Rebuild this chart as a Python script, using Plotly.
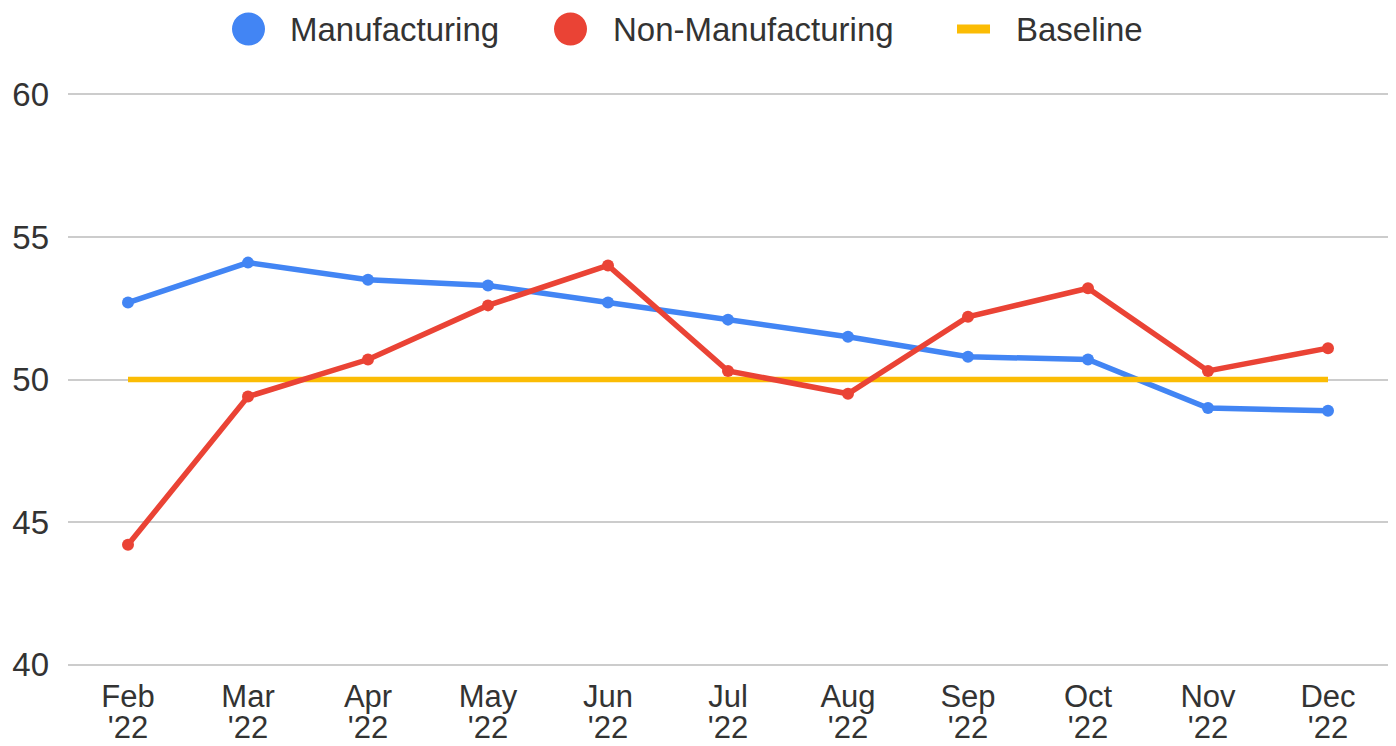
import plotly.graph_objects as go

months = ["Feb", "Mar", "Apr", "May", "Jun", "Jul", "Aug", "Sep", "Oct", "Nov", "Dec"]
years = ["'22", "'22", "'22", "'22", "'22", "'22", "'22", "'22", "'22", "'22", "'22"]
manufacturing = [52.7, 54.1, 53.5, 53.3, 52.7, 52.1, 51.5, 50.8, 50.7, 49.0, 48.9]
non_manufacturing = [44.2, 49.4, 50.7, 52.6, 54.0, 50.3, 49.5, 52.2, 53.2, 50.3, 51.1]
baseline = [50, 50, 50, 50, 50, 50, 50, 50, 50, 50, 50]
y_ticks = [40, 45, 50, 55, 60]

BLUE = "#4285F4"
RED = "#EA4335"
YELLOW = "#FBBC04"
TEXT = "#333333"
FONT = "Liberation Sans, Arial, sans-serif"
FS = 33
FSX = 31

idx = list(range(len(months)))

fig = go.Figure()
fig.add_trace(go.Scatter(x=idx, y=manufacturing, name="Manufacturing", mode="lines+markers",
                         line=dict(color=BLUE, width=5.5), marker=dict(size=12, color=BLUE),
                         showlegend=False))
fig.add_trace(go.Scatter(x=idx, y=baseline, name="Baseline", mode="lines",
                         line=dict(color=YELLOW, width=5.5), showlegend=False))
fig.add_trace(go.Scatter(x=idx, y=non_manufacturing, name="Non-Manufacturing", mode="lines+markers",
                         line=dict(color=RED, width=5.5), marker=dict(size=12, color=RED),
                         showlegend=False))
# invisible trace so the second (year) tick-label axis is drawn
fig.add_trace(go.Scatter(x=idx, y=baseline, xaxis="x2", mode="none", showlegend=False,
                         hoverinfo="skip"))

# the page's default 8px body margin is removed by the post script below
OFF = 0
W_FIG, H_FIG = 1396 - 2 * OFF, 746 - 2 * OFF
Y_LO, Y_HI, PAD = 40, 60, 0.12
PPU = 571 / (Y_HI - Y_LO)          # pixels per unit
L, PW = 68 - OFF, 1320
T = 94 - OFF - PAD * PPU
PH = (Y_HI - Y_LO + 2 * PAD) * PPU
R = W_FIG - L - PW
B = H_FIG - T - PH

def px_x(p):
    return (p - OFF - L) / PW

def px_y(p):
    return (H_FIG - B - (p - OFF)) / PH

shapes = [
    dict(type="circle", xref="paper", yref="paper", x0=px_x(232), x1=px_x(265),
         y0=px_y(45), y1=px_y(12), fillcolor=BLUE, line=dict(width=0)),
    dict(type="circle", xref="paper", yref="paper", x0=px_x(554), x1=px_x(587),
         y0=px_y(45), y1=px_y(12), fillcolor=RED, line=dict(width=0)),
    dict(type="rect", xref="paper", yref="paper", x0=px_x(957), x1=px_x(990),
         y0=px_y(33), y1=px_y(24), fillcolor=YELLOW, line=dict(width=0)),
]
annotations = []
for label, xp in [("Manufacturing", 288), ("Non-Manufacturing", 611), ("Baseline", 1014)]:
    annotations.append(dict(text=label, xref="paper", yref="paper", x=px_x(xp), y=px_y(29),
                            xanchor="left", yanchor="middle", showarrow=False,
                            font=dict(family=FONT, size=FS, color=TEXT)))

fig.update_layout(
    width=W_FIG, height=H_FIG,
    margin=dict(l=L, r=R, t=T, b=B, autoexpand=False),
    paper_bgcolor="white", plot_bgcolor="white",
    font=dict(family=FONT, size=FS, color=TEXT),
    shapes=shapes, annotations=annotations,
    showlegend=False,
    xaxis=dict(range=[-0.5, 10.5], tickmode="array", tickvals=idx, ticktext=months,
               showgrid=False, showline=False, zeroline=False, ticks="",
               ticklabelstandoff=7, tickfont=dict(size=FSX, color=TEXT)),
    xaxis2=dict(range=[-0.5, 10.5], tickmode="array", tickvals=idx, ticktext=years,
                overlaying="x", side="bottom", anchor="y",
                showgrid=False, showline=False, zeroline=False, ticks="",
                ticklabelstandoff=38, tickfont=dict(size=FSX, color=TEXT)),
    yaxis=dict(range=[Y_LO - PAD, Y_HI + PAD], tickvals=y_ticks, showgrid=True,
               gridcolor="#cccccc", gridwidth=2, zeroline=False, showline=False, ticks="",
               ticklabelstandoff=18, tickfont=dict(size=FS, color=TEXT)),
)

fig.write_html("out.html", config={"displayModeBar": False},
               post_script="document.body.style.margin='0';document.body.style.overflow='hidden';")
